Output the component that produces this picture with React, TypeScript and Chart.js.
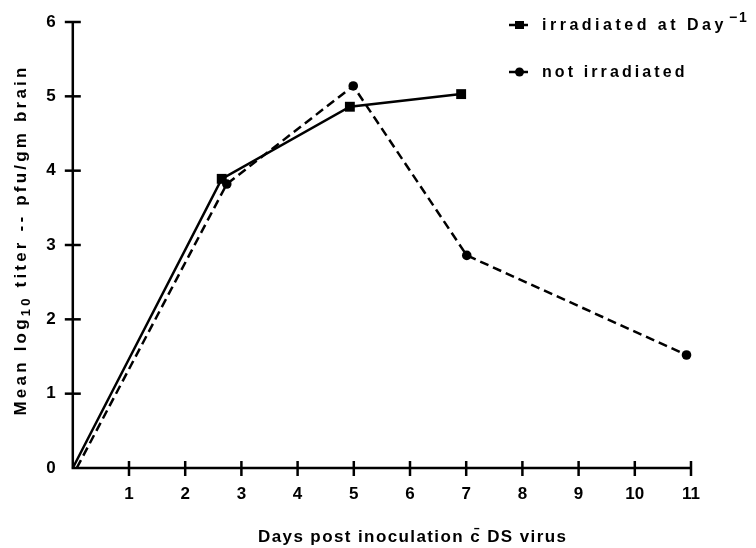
import React, { useEffect, useRef } from "react";
import { Chart, registerables } from "chart.js";

Chart.register(...registerables);

const irrDays = [0, 2.65, 4.93, 6.91];
const irrTiter = [0, 3.89, 4.86, 5.03];
const notDays = [0.07, 2.74, 4.99, 7.01, 10.92];
const notTiter = [0, 3.82, 5.14, 2.86, 1.52];

const xTickValues = [1, 2, 3, 4, 5, 6, 7, 8, 9, 10, 11];
const yTickValues = [0, 1, 2, 3, 4, 5, 6];

const legendLabels = ["irradiated at Day", "not irradiated"];
const legendSup = "\u22121";
const xTitle = "Days post inoculation c\u0304 DS virus";
const yTitleParts = ["Mean log", "10", " titer -- pfu/gm brain"];

const FONT = "'Liberation Sans', Arial, sans-serif";

const decorPlugin = {
  id: "decor",
  afterDraw(chart: any) {
    const ctx = chart.ctx as CanvasRenderingContext2D;
    const xs = chart.scales.x;
    const ys = chart.scales.y;
    const x0 = xs.getPixelForValue(0);
    const y0 = ys.getPixelForValue(0);
    ctx.save();
    ctx.strokeStyle = "#000";
    ctx.fillStyle = "#000";
    ctx.lineWidth = 2.5;
    // axis lines
    ctx.beginPath();
    ctx.moveTo(x0, ys.getPixelForValue(6));
    ctx.lineTo(x0, y0);
    ctx.lineTo(xs.getPixelForValue(11), y0);
    ctx.stroke();
    // crossing ticks
    xTickValues.forEach((v) => {
      const px = xs.getPixelForValue(v);
      ctx.beginPath();
      ctx.moveTo(px, y0 - 7);
      ctx.lineTo(px, y0 + 8);
      ctx.stroke();
    });
    yTickValues.slice(1).forEach((v) => {
      const py = ys.getPixelForValue(v);
      ctx.beginPath();
      ctx.moveTo(x0 - 8, py);
      ctx.lineTo(x0 + 8, py);
      ctx.stroke();
    });

    // legend
    const lx1 = 509, lx2 = 528, tx = 542;
    const rows = [25, 72];
    ctx.textBaseline = "middle";
    ctx.textAlign = "left";
    rows.forEach((ry, i) => {
      ctx.lineWidth = 2.5;
      ctx.beginPath();
      ctx.moveTo(lx1, ry);
      ctx.lineTo(lx2, ry);
      ctx.stroke();
      const cx = (lx1 + lx2) / 2 + 1;
      if (i === 0) {
        ctx.fillRect(cx - 4.5, ry - 4, 9, 8);
      } else {
        ctx.beginPath();
        ctx.arc(cx, ry, 4.5, 0, Math.PI * 2);
        ctx.fill();
      }
      (ctx as any).letterSpacing = i === 0 ? "3.5px" : "3.1px";
      ctx.font = "bold 16px " + FONT;
      ctx.fillText(legendLabels[i], tx, ry + 1);
      if (i === 0) {
        const w = ctx.measureText(legendLabels[i]).width;
        (ctx as any).letterSpacing = "2px";
        ctx.font = "bold 14px " + FONT;
        ctx.fillText(legendSup, tx + w + 2, ry - 7);
      }
    });

    // x title
    ctx.font = "bold 17px " + FONT;
    (ctx as any).letterSpacing = "1.4px";
    ctx.textAlign = "left";
    ctx.textBaseline = "middle";
    ctx.fillText(xTitle, 258, 537);

    // y title (rotated)
    (ctx as any).letterSpacing = "3.2px";
    ctx.translate(21, 240);
    ctx.rotate(-Math.PI / 2);
    ctx.font = "bold 17px " + FONT;
    const w0 = ctx.measureText(yTitleParts[0]).width;
    ctx.font = "bold 13px " + FONT;
    const w1 = ctx.measureText(yTitleParts[1]).width;
    ctx.font = "bold 17px " + FONT;
    const w2 = ctx.measureText(yTitleParts[2]).width;
    const total = w0 + w1 + w2;
    let cur = -total / 2;
    ctx.fillText(yTitleParts[0], cur, 0);
    cur += w0;
    ctx.font = "bold 13px " + FONT;
    ctx.fillText(yTitleParts[1], cur, 5);
    cur += w1;
    ctx.font = "bold 17px " + FONT;
    ctx.fillText(yTitleParts[2], cur, 0);
    ctx.restore();
  },
};

export default function App() {
  const ref = useRef<HTMLCanvasElement | null>(null);
  useEffect(() => {
    document.body.style.margin = "0";
    const canvas = ref.current!;
    const chart = new Chart(canvas, {
      type: "scatter",
      data: {
        datasets: [
          {
            label: legendLabels[0],
            data: irrDays.map((d, i) => ({ x: d, y: irrTiter[i] })),
            showLine: true,
            borderColor: "#000",
            backgroundColor: "#000",
            borderWidth: 2.5,
            pointStyle: "rect",
            pointRadius: irrDays.map((_, i) => (i === 0 ? 0 : 7)),
            pointBorderWidth: 0,
            clip: false as any,
          },
          {
            label: legendLabels[1],
            data: notDays.map((d, i) => ({ x: d, y: notTiter[i] })),
            showLine: true,
            borderColor: "#000",
            backgroundColor: "#000",
            borderWidth: 2.5,
            borderDash: [9, 5],
            pointStyle: "circle",
            pointRadius: notDays.map((_, i) => (i === 0 ? 0 : 4.8)),
            pointBorderWidth: 0,
            clip: false as any,
          },
        ],
      },
      options: {
        responsive: false,
        animation: false,
        layout: { padding: { left: 0, right: 65, top: 22, bottom: 0 } },
        plugins: { legend: { display: false }, tooltip: { enabled: false } },
        scales: {
          x: {
            type: "linear",
            min: 0,
            max: 11,
            grid: { display: false },
            border: { display: false },
            afterBuildTicks: (s: any) => {
              s.ticks = xTickValues.map((v) => ({ value: v }));
            },
            afterFit: (s: any) => {
              s.height = 80;
            },
            ticks: {
              color: "#000",
              padding: 8,
              font: { family: FONT, size: 17, weight: "bold" },
              maxRotation: 0,
            },
          },
          y: {
            type: "linear",
            min: 0,
            max: 6,
            grid: { display: false },
            border: { display: false },
            afterBuildTicks: (s: any) => {
              s.ticks = yTickValues.map((v) => ({ value: v }));
            },
            afterFit: (s: any) => {
              s.width = 72.8;
            },
            ticks: {
              color: "#000",
              padding: 9,
              font: { family: FONT, size: 17, weight: "bold" },
            },
          },
        },
      },
      plugins: [decorPlugin],
    });
    return () => chart.destroy();
  }, []);
  return (
    <div style={{ position: "absolute", left: 0, top: 0, width: 756, height: 548, background: "#fff" }}>
      <canvas ref={ref} width={756} height={548} />
    </div>
  );
}
